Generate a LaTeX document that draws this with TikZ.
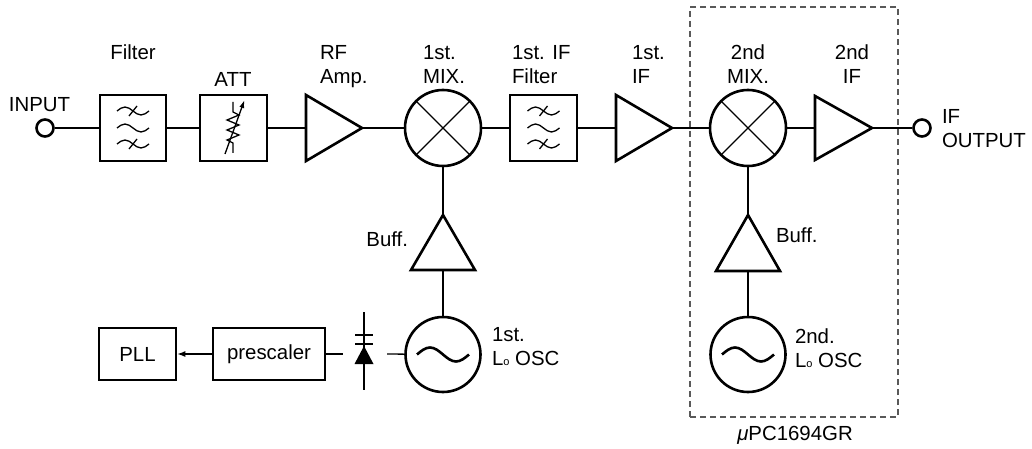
\documentclass[tikz,border=0pt]{standalone}
\usepackage{fontspec}
\setmainfont{Liberation Sans}
\usetikzlibrary{arrows.meta}
\tikzset{
  lbl/.style={font=\fontsize{20.4}{24}\selectfont, inner sep=0pt, outer sep=0pt},
  blk/.style={draw, line width=2.6pt, rectangle, inner sep=0pt},
  ghost/.style={rectangle, inner sep=0pt, outer sep=0pt},
  ring/.style={draw, line width=2.6pt, circle, inner sep=0pt, minimum size=76pt},
  port/.style={draw, line width=2.6pt, circle, inner sep=0pt, minimum size=17pt},
  sym/.style={line width=2.6pt, line join=miter},
  thinsym/.style={line width=1.3pt},
  wire/.style={line width=1.3pt},
  filtsym/.pic={
    \foreach \yy/\sl in {-17/1,0/0,16/1}{
      \draw[thinsym] (-16,\yy) sin (-8,\yy-4) cos (0,\yy) sin (8,\yy+4) cos (16,\yy);
      \ifnum\sl=1 \draw[thinsym] (-4,\yy+5) -- (4,\yy-5); \fi
    }
  },
  oscsym/.pic={
    \draw[line width=2.6pt] (-26,0) sin (-13,-7) cos (0,0) sin (13,7) cos (26,0);
  },
  mixsym/.pic={
    \draw[thinsym] (-26.9,-26.9) -- (26.9,26.9) (-26.9,26.9) -- (26.9,-26.9);
  }
}
\begin{document}
\begin{tikzpicture}[x=1pt,y=-1pt]
\useasboundingbox (0,0) rectangle (1032,449);

% dashed chip outline
\node[ghost, draw=black!65, dash pattern=on 6pt off 4pt, line width=1.3pt,
      minimum width=208pt, minimum height=410pt] (chip) at (794,212) {};
\node[lbl, anchor=base] (chiplbl) at (795,440) {\textit{μ}PC1694GR};

% main chain
\node[port] (in) at (45,128) {};
\node[lbl, anchor=base] (inlbl) at (39.5,112) {INPUT};

\node[blk, minimum width=66pt, minimum height=66pt] (filt) at (133,128) {};
\pic at (133,128) {filtsym};
\node[lbl, anchor=base] (filtlbl) at (133,60) {Filter};

\node[blk, minimum width=67pt, minimum height=66pt] (att) at (233.5,128) {};
\node[lbl, anchor=base] (attlbl) at (233,87) {ATT};
\draw[thinsym] (233,102) -- (233,112) -- (239,115) -- (227,120) -- (239,125) -- (227,130) -- (239,135) -- (227,140) -- (233,143) -- (233,153);
\draw[thinsym, -{Latex[length=8pt,width=5pt]}] (225,154) -- (244.5,100);

\node[ghost, minimum width=56pt, minimum height=66pt] (rf) at (334,128) {};
\draw[sym] (rf.north west) -- (rf.east) -- (rf.south west) -- cycle;
\node[lbl, anchor=base west, align=left] (rflbl) at (320,84) {RF\\Amp.};

\node[ring] (mix1) at (443,128) {};
\pic at (443,128) {mixsym};
\node[lbl, anchor=base west, align=left] (mix1lbl) at (423,84) {1st.\\MIX.};

\node[blk, minimum width=67pt, minimum height=66pt] (iff) at (543.5,128) {};
\pic at (543.5,128) {filtsym};
\node[lbl, anchor=base west, align=left] (ifflbl) at (512,84) {1st. IF\\Filter};

\node[ghost, minimum width=56pt, minimum height=66pt] (if1) at (644,128) {};
\draw[sym] (if1.north west) -- (if1.east) -- (if1.south west) -- cycle;
\node[lbl, anchor=base west, align=left] (if1lbl) at (632,84) {1st.\\IF};

\node[ring] (mix2) at (748,128) {};
\pic at (748,128) {mixsym};
\node[lbl, anchor=base, align=center] (mix2lbl) at (748,84) {2nd\\MIX.};

\node[ghost, minimum width=57pt, minimum height=64pt] (if2) at (843.5,128) {};
\draw[sym] (if2.north west) -- (if2.east) -- (if2.south west) -- cycle;
\node[lbl, anchor=base, align=center] (if2lbl) at (852,84) {2nd\\IF};

\node[port] (out) at (922,128) {};
\node[lbl, anchor=base west, align=left] (outlbl) at (942,148) {IF\\OUTPUT};

% main wires
\draw[wire] (in) -- (filt);
\draw[wire] (filt) -- (att);
\draw[wire] (att) -- (rf.west);
\draw[wire] (rf.east) -- (mix1);
\draw[wire] (mix1) -- (iff);
\draw[wire] (iff) -- (if1.west);
\draw[wire] (if1.east) -- (mix2);
\draw[wire] (mix2) -- (if2.west);
\draw[wire] (if2.east) -- (out);

% 1st LO branch
\node[ghost, minimum width=64pt, minimum height=55pt] (buf1) at (443,242.5) {};
\draw[sym] (buf1.south west) -- (buf1.north) -- (buf1.south east) -- cycle;
\node[lbl, anchor=base east] (buf1lbl) at (408,246) {Buff.};
\node[ring, minimum size=75pt] (osc1) at (443,354.5) {};
\pic at (443,354.5) {oscsym};
\node[lbl, anchor=base west, align=left] (osc1lbl) at (492,365) {1st.\\L{\fontsize{11}{11}\selectfont o} OSC};
\draw[wire] (mix1) -- (buf1.north);
\draw[wire] (buf1.south) -- (osc1);

% varactor
\coordinate (dl) at (343,354);
\coordinate (dr) at (387,354);
\coordinate (dtop) at (364,312);
\coordinate (dbot) at (364,390);
\draw[wire] (dtop) -- (dbot);
\draw[sym, line width=2.4pt] (355,335) -- (373,335) (355,344) -- (373,344);
\fill (364,346) -- (373.5,364) -- (354.5,364) -- cycle;

% PLL chain
\node[blk, minimum width=112pt, minimum height=52pt] (presc) at (269,354) {};
\node[lbl] (presclbl) at (269,354) {prescaler};
\node[blk, minimum width=77pt, minimum height=52pt] (pll) at (137.5,354) {};
\node[lbl] (plllbl) at (137.5,354) {PLL};
\draw[wire, -{Latex[length=8pt,width=6pt]}] (presc) -- (pll);
\draw[wire] (presc.east) -- (dl);
\draw[wire] (dr) -- (osc1);

% 2nd LO branch
\node[ghost, minimum width=64pt, minimum height=56pt] (buf2) at (748,243) {};
\draw[sym] (buf2.south west) -- (buf2.north) -- (buf2.south east) -- cycle;
\node[lbl, anchor=base west] (buf2lbl) at (776,242) {Buff.};
\node[ring, minimum size=75pt] (osc2) at (748,354.5) {};
\pic at (748,354.5) {oscsym};
\node[lbl, anchor=base west, align=left] (osc2lbl) at (795,367) {2nd.\\L{\fontsize{11}{11}\selectfont o} OSC};
\draw[wire] (mix2) -- (buf2.north);
\draw[wire] (buf2.south) -- (osc2);
\end{tikzpicture}
\end{document}
